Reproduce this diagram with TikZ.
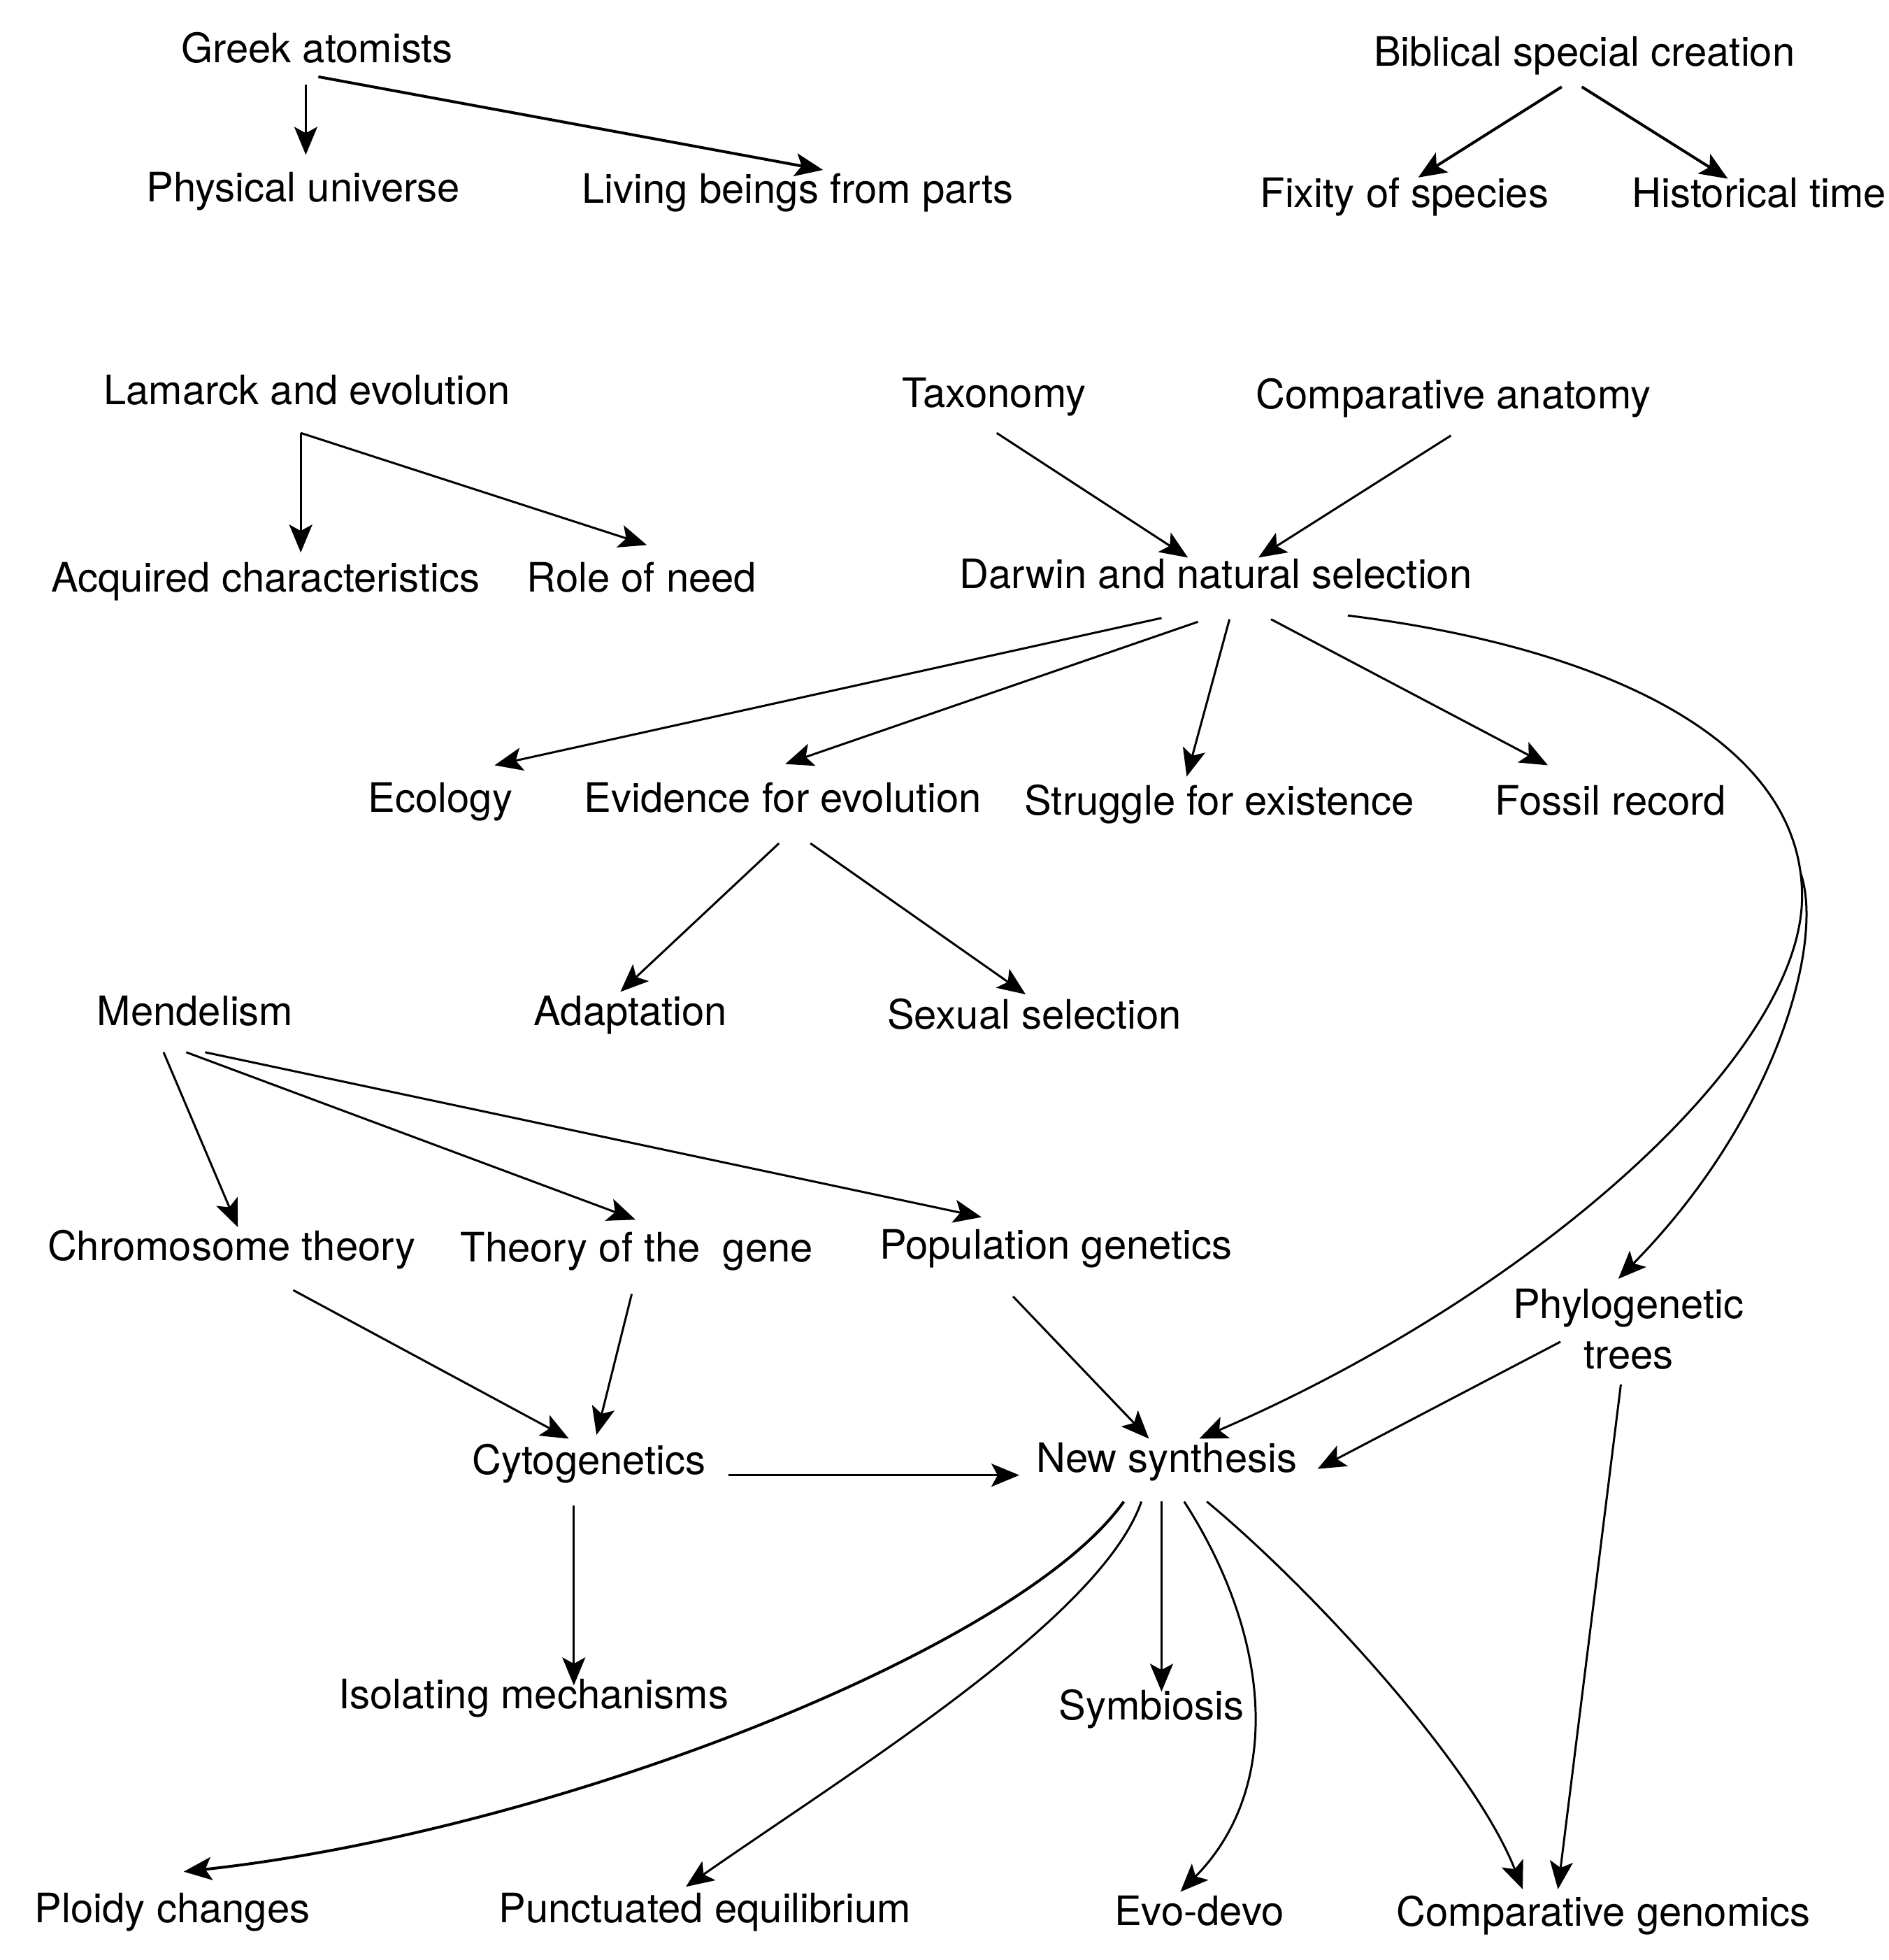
\documentclass[tikz,border=0pt]{standalone}
\usepackage{fontspec}
\setmainfont{TeX Gyre Heros}
\usetikzlibrary{arrows.meta,calc}
\begin{document}
\begin{tikzpicture}[x=1.8pt,y=-1.8pt,
  lbl/.style={inner sep=0pt, anchor=mid, font=\fontsize{58}{72}\selectfont},
  arr/.style={-{Stealth[length=40pt,width=33pt,inset=9pt]}, line width=3pt},
  arrthick/.style={arr, line width=4pt}]
\path[fill=white,use as bounding box] (0,0) rectangle (1500.6,1557.2);
% nodes
\node[lbl] (greek) at (252,48) {Greek atomists};
\node[lbl] (phys) at (241,159) {Physical universe};
\node[lbl] (living) at (634,160) {Living beings from parts};
\node[lbl] (bib) at (1259,51) {Biblical special creation};
\node[lbl] (fix) at (1116,163) {Fixity of species};
\node[lbl] (hist) at (1398,163) {Historical time};
\node[lbl] (lam) at (244,320) {Lamarck and evolution};
\node[lbl] (acq) at (211,469) {Acquired characteristics};
\node[lbl] (role) at (510,469) {Role of need};
\node[lbl] (tax) at (790,322) {Taxonomy};
\node[lbl] (comp) at (1155,323) {Comparative anatomy};
\node[lbl] (darwin) at (966,466) {Darwin and natural selection};
\node[lbl] (eco) at (350,644) {Ecology};
\node[lbl] (evid) at (622,644) {Evidence for evolution};
\node[lbl] (strug) at (969,646) {Struggle for existence};
\node[lbl] (fossil) at (1280,646) {Fossil record};
\node[lbl] (adapt) at (501,813) {Adaptation};
\node[lbl] (sexsel) at (822,816) {Sexual selection};
\node[lbl] (mendel) at (155,813) {Mendelism};
\node[lbl] (chrom) at (184,1000) {Chromosome theory};
\node[lbl] (gene) at (506,1001) {Theory of the\ \ gene};
\node[lbl] (pop) at (839,999) {Population genetics};
\node[lbl, anchor=center, align=center] (phylo) at (1294,1056) {Phylogenetic\\trees};
\node[lbl] (cyto) at (468,1170) {Cytogenetics};
\node[lbl] (newsyn) at (927,1168) {New synthesis};
\node[lbl] (isol) at (424,1356) {Isolating mechanisms};
\node[lbl] (symb) at (915,1365) {Symbiosis};
\node[lbl] (ploidy) at (137,1526) {Ploidy changes};
\node[lbl] (punct) at (560,1526) {Punctuated equilibrium};
\node[lbl] (evodevo) at (953,1528) {Evo-devo};
\node[lbl] (compgen) at (1274,1529) {Comparative genomics};
% connectors
\draw[arr] ($(greek.mid)+(-9,19)$) -- ($(phys.mid)+(2,-36)$);
\draw[arrthick] ($(greek.mid)+(1,13)$) -- ($(living.mid)+(20,-25)$);
\draw[arrthick] ($(bib.mid)+(-18,18)$) -- ($(fix.mid)+(11,-22)$);
\draw[arrthick] ($(bib.mid)+(-2,18)$) -- ($(hist.mid)+(-25,-21)$);
\draw[arr] ($(lam.mid)+(-5,24)$) -- ($(acq.mid)+(28,-30)$);
\draw[arr] ($(lam.mid)+(-5,24)$) -- ($(role.mid)+(4,-36)$);
\draw[arr] ($(tax.mid)+(2,22)$) -- ($(darwin.mid)+(-22,-23)$);
\draw[arr] ($(comp.mid)+(-2,23)$) -- ($(darwin.mid)+(34,-23)$);
\draw[arr] ($(darwin.mid)+(-43,25)$) -- ($(eco.mid)+(43,-36)$);
\draw[arr] ($(darwin.mid)+(-14,28)$) -- ($(evid.mid)+(2,-37)$);
\draw[arr] ($(darwin.mid)+(11,26)$) -- ($(strug.mid)+(-26,-29)$);
\draw[arr] ($(darwin.mid)+(44,26)$) -- ($(fossil.mid)+(-50,-38)$);
\draw[arr] ($(darwin.mid)+(105,23)$) .. controls (1280,515) and (1432,590) .. (1432,712)
   .. controls (1432,840) and (1215,1030) .. ($(newsyn.mid)+(26,-25)$);
\coordinate (br) at (1431,694);
\draw[arr] (br) .. controls (1450,750) and (1410,890) .. ($(phylo)+(-8,-40)$);
\draw[arr] ($(evid.mid)+(-3,26)$) -- ($(adapt.mid)+(-8,-25)$);
\draw[arr] ($(evid.mid)+(22,26)$) -- ($(sexsel.mid)+(-7,-26)$);
\draw[arr] ($(mendel.mid)+(-25,23)$) -- ($(chrom.mid)+(5,-25)$);
\draw[arr] ($(mendel.mid)+(-7,23)$) -- ($(gene.mid)+(-1,-32)$);
\draw[arr] ($(mendel.mid)+(8,23)$) -- ($(pop.mid)+(-59,-32)$);
\draw[arr] ($(chrom.mid)+(49,25)$) -- ($(cyto.mid)+(-16,-27)$);
\draw[arr] ($(gene.mid)+(-4,27)$) -- ($(cyto.mid)+(6,-30)$);
\draw[arr] ($(pop.mid)+(-34,31)$) -- ($(newsyn.mid)+(-14,-25)$);
\draw[arr] ($(phylo)+(-54,10)$) -- ($(newsyn.mid)+(120,-1)$);
\draw[arr] ($(cyto.mid)+(111,2)$) -- ($(newsyn.mid)+(-117,4)$);
\draw[arr] ($(cyto.mid)+(-12,26)$) -- ($(isol.mid)+(32,-17)$);
\draw[arr] ($(phylo)+(-6,44)$) -- ($(compgen.mid)+(-36,-28)$);
\draw[arrthick] ($(newsyn.mid)+(-34,25)$) .. controls (810,1310) and (440,1455) .. ($(ploidy.mid)+(9,-39)$);
\draw[arr] ($(newsyn.mid)+(-20,25)$) .. controls (875,1285) and (680,1405) .. ($(punct.mid)+(-15,-27)$);
\draw[arr] ($(newsyn.mid)+(-4,25)$) -- ($(symb.mid)+(8,-21)$);
\draw[arr] ($(newsyn.mid)+(14,25)$) .. controls (1010,1300) and (1020,1420) .. ($(evodevo.mid)+(-15,-25)$);
\draw[arr] ($(newsyn.mid)+(32,25)$) .. controls (1040,1260) and (1170,1400) .. ($(compgen.mid)+(-64,-28)$);
\end{tikzpicture}
\end{document}
